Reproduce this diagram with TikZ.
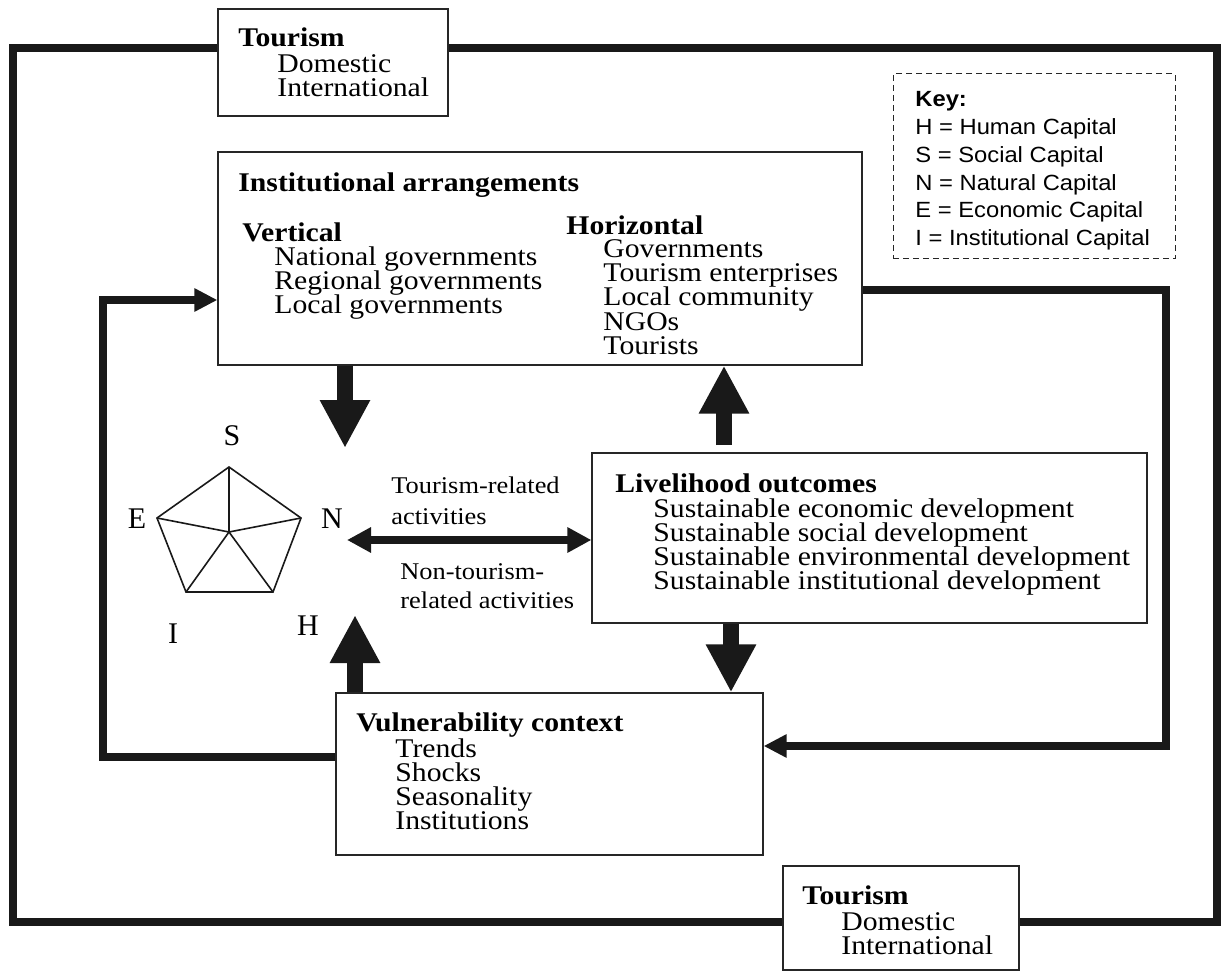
\documentclass[tikz,border=0pt]{standalone}
\usepackage{fontspec}
\setmainfont{Liberation Serif}[FakeStretch=1.1]
\newfontfamily\letterfont{Liberation Serif}
\newfontfamily\keyfont{Liberation Sans}[FakeStretch=1.08]
\usetikzlibrary{arrows.meta}
\begin{document}
\begin{tikzpicture}[x=0.5pt,y=-0.5pt,
  box/.style={draw=black!85, line width=0.6pt, inner sep=0pt},
  keybox/.style={draw=black!85, line width=0.5pt, dash pattern=on 3pt off 2pt, inner sep=0pt},
  txt/.style={anchor=base west, inner sep=0pt, font=\fontsize{13.5}{16}\selectfont},
  hd/.style={anchor=base west, inner sep=0pt, font=\fontsize{13.5}{16}\selectfont\bfseries},
  lbl/.style={anchor=base west, inner sep=0pt, font=\fontsize{12}{14}\selectfont},
  keytxt/.style={anchor=base west, inner sep=0pt, font=\keyfont\fontsize{11}{13}\selectfont},
  capletter/.style={anchor=base, inner sep=0pt, font=\letterfont\fontsize{15}{18}\selectfont},
  outerloop/.style={line width=3.8pt, line join=miter, black!90},
  feedback/.style={line width=3.6pt, line join=miter, black!90, -{Triangle[length=11.5pt,width=11pt]}},
  bigarrow/.style={line width=8pt, black!90, -{Triangle[length=24pt,width=23.5pt]}},
  dblarrow/.style={line width=4pt, black!90, {Triangle[length=12pt,width=12pt]}-{Triangle[length=12pt,width=12pt]}},
  pent/.style={line width=0.8pt, black!90, line join=miter}
]
\useasboundingbox (0,0) rectangle (1221,973);

% boxes
\node[box, minimum width=115pt, minimum height=53.5pt] (tourTop) at (333,62.5) {};
\node[box, minimum width=322pt, minimum height=106.5pt] (inst) at (540,258.5) {};
\node[keybox, minimum width=141pt, minimum height=92.5pt] (key) at (1034,166.5) {};
\node[box, minimum width=277.5pt, minimum height=85pt] (liv) at (869.5,538) {};
\node[box, minimum width=213.5pt, minimum height=81pt] (vul) at (549.5,774) {};
\node[box, minimum width=118pt, minimum height=52pt] (tourBot) at (901,918) {};

% outer loop
\coordinate (oTL) at (13,48);
\coordinate (oTR) at (1217,48);
\coordinate (oBL) at (13,922);
\coordinate (oBR) at (1217,922);
\draw[outerloop] (tourTop.west |- oTL) -- (oTL) -- (oBL) -- (tourBot.west |- oBL);
\draw[outerloop] (tourTop.east |- oTR) -- (oTR) -- (oBR) -- (tourBot.east |- oBR);

% feedback loops
\coordinate (lA) at (103,757);
\coordinate (lB) at (103,300);
\draw[feedback] (vul.west |- lA) -- (lA) -- (lB) -- (inst.west |- lB);
\coordinate (rA) at (1166,290);
\coordinate (rB) at (1166,746);
\draw[feedback] (inst.east |- rA) -- (rA) -- (rB) -- (vul.east |- rB);

% big arrows
\coordinate (dA) at (345,448);
\draw[bigarrow] (inst.south -| dA) -- (dA);
\coordinate (hA) at (355,615);
\draw[bigarrow] (vul.north -| hA) -- (hA);
\coordinate (uA) at (724,445);
\draw[bigarrow] (uA) -- (inst.south -| uA);
\coordinate (lvA) at (731,623);
\draw[bigarrow] (liv.south -| lvA) -- (vul.north -| lvA);

% double arrow
\coordinate (dbl) at (347,540);
\draw[dblarrow] (dbl) -- (liv.west |- dbl);

% pentagon
\coordinate (pS) at (229,467);
\coordinate (pN) at (301,518);
\coordinate (pH) at (273,592);
\coordinate (pI) at (186,592);
\coordinate (pE) at (157,518);
\coordinate (pC) at (229,532);
\draw[pent] (pS) -- (pN) -- (pH) -- (pI) -- (pE) -- cycle;
\draw[pent] (pC) -- (pS) (pC) -- (pN) (pC) -- (pH) (pC) -- (pI) (pC) -- (pE);
\node[capletter] (lS) at (232,445) {S};
\node[capletter] (lE) at (137,528) {E};
\node[capletter] (lN) at (332,528) {N};
\node[capletter] (lI) at (173,643) {I};
\node[capletter] (lH) at (308,635) {H};

% texts: top tourism
\node[hd] (tt1) at (238,47) {Tourism};
\node[txt] (tt2) at (277,73) {Domestic};
\node[txt] (tt3) at (277,97) {International};

% institutional arrangements
\node[hd] (ia0) at (238,192) {Institutional arrangements};
\node[hd] (iv0) at (242,242) {Vertical};
\node[txt] (iv1) at (274,266) {National governments};
\node[txt] (iv2) at (274,290) {Regional governments};
\node[txt] (iv3) at (274,314) {Local governments};
\node[hd] (ih0) at (566,235) {Horizontal};
\node[txt] (ih1) at (603,258) {Governments};
\node[txt] (ih2) at (603,282) {Tourism enterprises};
\node[txt] (ih3) at (603,306) {Local community};
\node[txt] (ih4) at (603,330) {NGOs};
\node[txt] (ih5) at (603,354) {Tourists};

% key
\node[keytxt, font=\keyfont\fontsize{11}{13}\selectfont\bfseries] (k0) at (915,107) {Key:};
\node[keytxt] (k1) at (915,135) {H = Human Capital};
\node[keytxt] (k2) at (915,163) {S = Social Capital};
\node[keytxt] (k3) at (915,191) {N = Natural Capital};
\node[keytxt] (k4) at (915,218) {E = Economic Capital};
\node[keytxt] (k5) at (915,246) {I = Institutional Capital};

% activity labels
\node[lbl] (a1) at (391,493) {Tourism-related};
\node[lbl] (a2) at (391,524) {activities};
\node[lbl] (a3) at (400,579) {Non-tourism-};
\node[lbl] (a4) at (400,608) {related activities};

% livelihood outcomes
\node[hd] (lo0) at (615,492) {Livelihood outcomes};
\node[txt] (lo1) at (653,517) {Sustainable economic development};
\node[txt] (lo2) at (653,541) {Sustainable social development};
\node[txt] (lo3) at (653,565) {Sustainable environmental development};
\node[txt] (lo4) at (653,589) {Sustainable institutional development};

% vulnerability context
\node[hd] (vc0) at (356,731) {Vulnerability context};
\node[txt] (vc1) at (395,757) {Trends};
\node[txt] (vc2) at (395,781) {Shocks};
\node[txt] (vc3) at (395,805) {Seasonality};
\node[txt] (vc4) at (395,829) {Institutions};

% bottom tourism
\node[hd] (tb1) at (802,904) {Tourism};
\node[txt] (tb2) at (841,930) {Domestic};
\node[txt] (tb3) at (841,954) {International};
\end{tikzpicture}
\end{document}
